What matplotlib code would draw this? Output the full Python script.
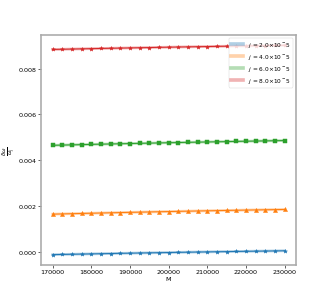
import numpy as np
import matplotlib.pyplot as plt

# masses
M = [170000, 172500, 175000, 177500, 180000, 182500, 185000, 187500, 190000,
     192500, 195000, 197500, 200000, 202500, 205000, 207500, 210000, 212500,
     215000, 217500, 220000, 222500, 225000, 227500, 230000]

# relative frequency shift for each j
dw_j2 = [-1.30e-4, -1.21e-4, -1.13e-4, -1.05e-4, -0.97e-4, -0.89e-4, -0.81e-4,
         -0.73e-4, -0.66e-4, -0.58e-4, -0.51e-4, -0.44e-4, -0.37e-4, -0.30e-4,
         -0.23e-4, -0.16e-4, -0.10e-4, -0.03e-4, 0.03e-4, 0.09e-4, 0.15e-4,
         0.21e-4, 0.27e-4, 0.33e-4, 0.40e-4]
dw_j4 = [1.640e-3, 1.651e-3, 1.661e-3, 1.671e-3, 1.681e-3, 1.691e-3, 1.700e-3,
         1.710e-3, 1.719e-3, 1.728e-3, 1.737e-3, 1.746e-3, 1.754e-3, 1.763e-3,
         1.771e-3, 1.779e-3, 1.787e-3, 1.795e-3, 1.803e-3, 1.810e-3, 1.818e-3,
         1.825e-3, 1.832e-3, 1.839e-3, 1.846e-3]
dw_j6 = [4.650e-3, 4.660e-3, 4.670e-3, 4.680e-3, 4.690e-3, 4.700e-3, 4.709e-3,
         4.718e-3, 4.727e-3, 4.736e-3, 4.745e-3, 4.754e-3, 4.763e-3, 4.771e-3,
         4.780e-3, 4.788e-3, 4.796e-3, 4.804e-3, 4.812e-3, 4.820e-3, 4.828e-3,
         4.836e-3, 4.843e-3, 4.851e-3, 4.858e-3]
dw_j8 = [8.840e-3, 8.849e-3, 8.858e-3, 8.867e-3, 8.876e-3, 8.884e-3, 8.892e-3,
         8.900e-3, 8.908e-3, 8.916e-3, 8.924e-3, 8.932e-3, 8.939e-3, 8.947e-3,
         8.954e-3, 8.961e-3, 8.968e-3, 8.975e-3, 8.982e-3, 8.989e-3, 8.995e-3,
         9.002e-3, 9.008e-3, 9.014e-3, 9.020e-3]

series = [dw_j2, dw_j4, dw_j6, dw_j8]
labels = [r'$j$ = 2.0$\times10^-5$', r'$j$ = 4.0$\times10^-5$',
          r'$j$ = 6.0$\times10^-5$', r'$j$ = 8.0$\times10^-5$']
colors = ['tab:blue', 'tab:orange', 'tab:green', 'tab:red']
markers = ['*', '^', 's', '*']

plt.rcParams['font.size'] = 14

fig, ax = plt.subplots(figsize=(10, 9.088), dpi=32.9)

for y, lab, c, m in zip(series, labels, colors, markers):
    ax.plot(M, y, color=c, linewidth=6, alpha=0.35, label=lab)
    ax.plot(M, y, color=c, linewidth=2.2, marker=m, markersize=9)

ax.set_xlabel('M')
ax.set_ylabel(r'$\frac{\delta\omega}{\omega_j}$', fontsize=17)
leg = ax.legend(loc='upper right', fontsize=13)
for h in leg.get_lines():
    h.set_linewidth(8)

for s in ax.spines.values():
    s.set_color('#aaaaaa')
    s.set_linewidth(3.5)
ax.tick_params(width=2, length=6, color='#555555')

fig.savefig('out.png', dpi=32.9)
